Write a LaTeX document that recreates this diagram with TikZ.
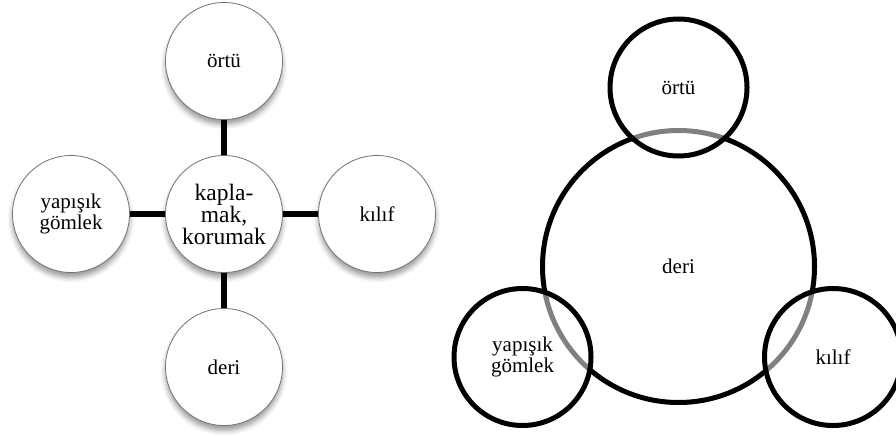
\documentclass[tikz,border=0pt]{standalone}
\usepackage{fontspec}
\setmainfont{Liberation Serif}
\usetikzlibrary{shadows.blur}
\begin{document}
\begin{tikzpicture}[x=1pt,y=-1pt,
  label font/.style={font=\fontsize{21}{20.5}\selectfont},
  bubble/.style={circle, draw=black!55, line width=0.8pt, fill=white,
    minimum size=117pt, inner sep=0pt, align=center, label font,
    blur shadow={shadow xshift=0pt, shadow yshift=-5pt,
      shadow blur radius=5pt, shadow opacity=40}},
  hubbubble/.style={bubble, font=\fontsize{23.5}{22}\selectfont},
  link/.style={line width=6.5pt, black},
  ring/.style={circle, draw=black, line width=5pt, inner sep=0pt,
    align=center, label font},
  bigring/.style={ring, minimum size=272pt},
  smallring/.style={ring, minimum size=137pt, fill=white,
    fill opacity=0.5, text opacity=1}]
\useasboundingbox (0,0) rectangle (896,436);

% left: hub with four satellites
\node[hubbubble] (hub)  at (224,214) {kapla-\\mak,\\korumak};
\node[bubble] (ortuA)   at (224,61)  {örtü};
\node[bubble] (gomlekA) at (71,214)  {yapışık\\gömlek};
\node[bubble] (kilifA)  at (377,214) {kılıf};
\node[bubble] (deriA)   at (224,367) {deri};
\draw[link] (hub) -- (ortuA);
\draw[link] (hub) -- (gomlekA);
\draw[link] (hub) -- (kilifA);
\draw[link] (hub) -- (deriA);

% right: large ring with three overlapping rings
\node[bigring]   (deriB)   at (678.5,266.5) {deri};
\node[smallring] (ortuB)   at (678.5,87.5)  {örtü};
\node[smallring] (gomlekB) at (522.5,357)   {yapışık\\gömlek};
\node[smallring] (kilifB)  at (833,357)     {kılıf};
\end{tikzpicture}
\end{document}
